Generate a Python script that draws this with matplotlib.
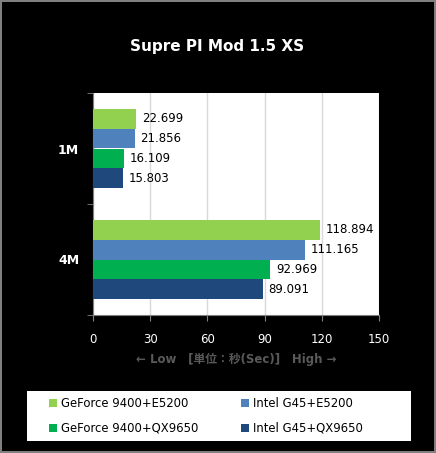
import matplotlib.pyplot as plt
from matplotlib.patches import Rectangle
import numpy as np

plt.rcParams['font.family'] = ['DejaVu Sans', 'Noto Sans CJK JP']

categories = ['1M', '4M']
series_names = ['GeForce 9400+E5200', 'Intel G45+E5200',
                'GeForce 9400+QX9650', 'Intel G45+QX9650']
values = [
    [22.699, 118.894],
    [21.856, 111.165],
    [16.109, 92.969],
    [15.803, 89.091],
]
colors = ['#92D050', '#4F81BD', '#00B050', '#1F497D']
x_ticks = [0, 30, 60, 90, 120, 150]

fig = plt.figure(figsize=(4.36, 4.53), dpi=100)
fig.patch.set_facecolor('black')
fig.patch.set_edgecolor('#808080')
fig.patch.set_linewidth(1.5)

ax = fig.add_axes([93 / 436, 138 / 453, 286 / 436, 222 / 453])
ax.set_facecolor('white')

y = np.arange(len(categories))
h = 0.18
offsets = [-1.5 * h, -0.5 * h, 0.5 * h, 1.5 * h]
bars = []
for name, vals, col, off in zip(series_names, values, colors, offsets):
    b = ax.barh(y + off, vals, height=h, color=col, label=name, zorder=3)
    bars.append(b)
    ax.bar_label(b, labels=['%.3f' % v for v in vals], padding=4, fontsize=8.5, color='black')

ax.set_xlim(0, 150)
ax.set_ylim(1.5, -0.5)
ax.set_xticks(x_ticks)
ax.set_xticklabels([str(t) for t in x_ticks], color='white', fontsize=8.5)
ax.tick_params(axis='x', length=4, color='#808080', pad=9)
ax.xaxis.grid(True, color='#D9D9D9', linewidth=1, zorder=0)

ax.set_yticks(y)
ax.set_yticklabels(categories, color='white', fontsize=9, fontweight='bold')
ax.tick_params(axis='y', which='major', length=0, pad=10)
ax.set_yticks([-0.5, 0.5, 1.5], minor=True)
ax.tick_params(axis='y', which='minor', length=4, color='#808080')

for s in ['top', 'right']:
    ax.spines[s].set_visible(False)
for s in ['left', 'bottom']:
    ax.spines[s].set_color('#808080')

ax.set_xlabel('← Low\u3000[単位：秒(Sec)]\u3000High →', color='#595959',
              fontsize=8.5, fontweight='bold', labelpad=5)

fig.text(217 / 436, 1 - 46 / 453, 'Supre PI Mod 1.5 XS', color='white',
         fontsize=11, fontweight='bold', ha='center', va='center')

# legend box
fig.add_artist(Rectangle((27 / 436, 12 / 453), 384 / 436, 50 / 453,
                         transform=fig.transFigure, facecolor='white',
                         edgecolor='none', zorder=1))

leg_kw = dict(loc='center left', frameon=False, fontsize=8.4,
              handlelength=0.7, handleheight=0.7, handletextpad=0.3,
              borderpad=0, borderaxespad=0, labelspacing=1.0)
leg1 = fig.legend(handles=[bars[0], bars[2]], labels=[series_names[0], series_names[2]],
                  bbox_to_anchor=(49 / 436, 37 / 453), **leg_kw)
leg2 = fig.legend(handles=[bars[1], bars[3]], labels=[series_names[1], series_names[3]],
                  bbox_to_anchor=(241 / 436, 37 / 453), **leg_kw)

fig.savefig('out.png', dpi=100, facecolor=fig.get_facecolor(), edgecolor=fig.get_edgecolor())
